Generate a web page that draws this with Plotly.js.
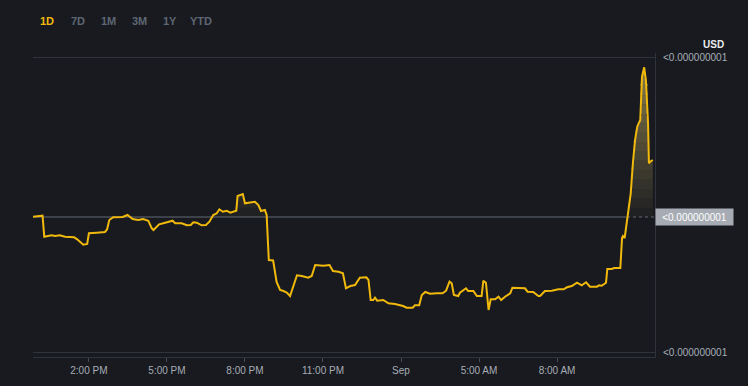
<!DOCTYPE html>
<html>
<head>
<meta charset="utf-8">
<script src="https://cdn.plot.ly/plotly-3.0.1.min.js"></script>
<style>
html,body{margin:0;padding:0;background:#181a20;}
#chart{width:748px;height:386px;}
</style>
</head>
<body>
<div id="chart"></div>
<script>
// Time stamps (local time) of each sampled price
const times = [
"2024-08-31 11:51","2024-08-31 12:13","2024-08-31 12:17","2024-08-31 12:23","2024-08-31 12:34",
"2024-08-31 12:42","2024-08-31 12:53","2024-08-31 13:05","2024-08-31 13:16","2024-08-31 13:26",
"2024-08-31 13:33","2024-08-31 13:40","2024-08-31 13:47","2024-08-31 13:56","2024-08-31 14:00",
"2024-08-31 14:18","2024-08-31 14:37","2024-08-31 14:42","2024-08-31 14:47","2024-08-31 14:56",
"2024-08-31 15:04","2024-08-31 15:18","2024-08-31 15:29","2024-08-31 15:41","2024-08-31 15:54",
"2024-08-31 16:05","2024-08-31 16:17","2024-08-31 16:25","2024-08-31 16:29","2024-08-31 16:42",
"2024-08-31 16:56","2024-08-31 17:07","2024-08-31 17:13","2024-08-31 17:19","2024-08-31 17:34",
"2024-08-31 17:46","2024-08-31 17:55","2024-08-31 18:01","2024-08-31 18:09","2024-08-31 18:20",
"2024-08-31 18:30","2024-08-31 18:38","2024-08-31 18:47","2024-08-31 18:55","2024-08-31 19:01",
"2024-08-31 19:09","2024-08-31 19:18","2024-08-31 19:26","2024-08-31 19:40","2024-08-31 19:43",
"2024-08-31 19:55","2024-08-31 20:00","2024-08-31 20:16","2024-08-31 20:23","2024-08-31 20:31",
"2024-08-31 20:37","2024-08-31 20:46","2024-08-31 20:50","2024-08-31 20:55","2024-08-31 21:05",
"2024-08-31 21:13","2024-08-31 21:21","2024-08-31 21:29","2024-08-31 21:37","2024-08-31 21:44",
"2024-08-31 21:52","2024-08-31 22:00","2024-08-31 22:11","2024-08-31 22:26","2024-08-31 22:34",
"2024-08-31 22:42","2024-08-31 23:01","2024-08-31 23:15","2024-08-31 23:23","2024-08-31 23:36",
"2024-08-31 23:46","2024-08-31 23:53","2024-09-01 00:03","2024-09-01 00:14","2024-09-01 00:25",
"2024-09-01 00:40","2024-09-01 00:45","2024-09-01 00:50","2024-09-01 00:56","2024-09-01 01:00",
"2024-09-01 01:05","2024-09-01 01:19","2024-09-01 01:31","2024-09-01 01:46","2024-09-01 02:05",
"2024-09-01 02:13","2024-09-01 02:27","2024-09-01 02:32","2024-09-01 02:42","2024-09-01 02:48",
"2024-09-01 02:56","2024-09-01 03:07","2024-09-01 03:23","2024-09-01 03:36","2024-09-01 03:44",
"2024-09-01 03:52","2024-09-01 03:57","2024-09-01 04:02","2024-09-01 04:12","2024-09-01 04:16",
"2024-09-01 04:30","2024-09-01 04:35","2024-09-01 04:47","2024-09-01 04:55","2024-09-01 05:06",
"2024-09-01 05:10","2024-09-01 05:16","2024-09-01 05:22","2024-09-01 05:27","2024-09-01 05:37",
"2024-09-01 05:45","2024-09-01 05:51","2024-09-01 06:00","2024-09-01 06:12","2024-09-01 06:17",
"2024-09-01 06:31","2024-09-01 06:37","2024-09-01 06:46","2024-09-01 06:52","2024-09-01 07:05",
"2024-09-01 07:17","2024-09-01 07:21","2024-09-01 07:32","2024-09-01 07:48","2024-09-01 08:03",
"2024-09-01 08:15","2024-09-01 08:23","2024-09-01 08:34","2024-09-01 08:46","2024-09-01 08:57",
"2024-09-01 09:07","2024-09-01 09:16","2024-09-01 09:32","2024-09-01 09:37","2024-09-01 09:43",
"2024-09-01 09:51","2024-09-01 09:53","2024-09-01 09:56","2024-09-01 10:06","2024-09-01 10:12",
"2024-09-01 10:26","2024-09-01 10:30","2024-09-01 10:32","2024-09-01 10:36","2024-09-01 10:41",
"2024-09-01 10:47","2024-09-01 10:50","2024-09-01 10:55","2024-09-01 11:00","2024-09-01 11:05",
"2024-09-01 11:12","2024-09-01 11:16","2024-09-01 11:21","2024-09-01 11:25","2024-09-01 11:30",
"2024-09-01 11:32","2024-09-01 11:35","2024-09-01 11:41"
];

// Price (relative units; every real value is below 0.000000001 USD)
const prices = [
1.353,1.363,1.153,1.160,1.167,1.160,1.167,1.153,1.147,1.147,
1.127,1.103,1.073,1.080,1.187,1.193,1.200,1.227,1.320,1.347,
1.350,1.350,1.370,1.330,1.320,1.330,1.313,1.237,1.220,1.277,
1.293,1.303,1.313,1.287,1.287,1.267,1.270,1.297,1.293,1.267,
1.270,1.303,1.370,1.387,1.427,1.403,1.413,1.393,1.413,1.560,
1.580,1.487,1.493,1.503,1.470,1.410,1.420,1.370,0.920,0.915,
0.700,0.620,0.610,0.593,0.560,0.670,0.767,0.760,0.743,0.760,
0.870,0.863,0.870,0.810,0.803,0.787,0.637,0.660,0.670,0.743,
0.747,0.720,0.520,0.520,0.543,0.513,0.520,0.487,0.480,0.460,
0.443,0.443,0.467,0.467,0.570,0.600,0.583,0.587,0.587,0.613,
0.703,0.687,0.570,0.560,0.593,0.637,0.610,0.610,0.560,0.560,
0.713,0.693,0.420,0.527,0.527,0.553,0.520,0.553,0.587,0.643,
0.643,0.637,0.637,0.603,0.600,0.560,0.560,0.610,0.613,0.627,
0.627,0.647,0.660,0.693,0.667,0.697,0.653,0.653,0.667,0.663,
0.687,0.693,0.830,0.830,0.840,0.840,1.140,1.160,1.140,1.320,
1.537,1.587,1.887,2.120,2.253,2.320,2.753,2.847,2.720,2.287,
1.887,1.903,1.920
];

const basePrice = 1.35;          // reference (opening) price line
const axisHigh = 2.95;           // upper axis label position
const axisLow = 0.0;             // lower axis label position
const axisLabels = ["<0.000000001", "<0.000000001"];
const currentLabel = "<0.000000001";
const currency = "USD";
const rangeButtons = ["1D", "7D", "1M", "3M", "1Y", "YTD"];
const xTickVals = ["2024-08-31 14:00","2024-08-31 17:00","2024-08-31 20:00","2024-08-31 23:00",
                   "2024-09-01 02:00","2024-09-01 05:00","2024-09-01 08:00"];
const xTickText = ["2:00 PM","5:00 PM","8:00 PM","11:00 PM","Sep","5:00 AM","8:00 AM"];
const xRange = ["2024-08-31 11:51", "2024-09-01 11:46"];

const yellow = "#f0b90b";

// Area above the reference line, drawn as stacked bands of rising opacity (vertical gradient look)
const gradTop = 2.85, nBands = 16;
const traces = [];
for (let k = 0; k < nBands; k++) {
  const lo = basePrice + (gradTop - basePrice) * k / nBands;
  const hi = basePrice + (gradTop - basePrice) * (k + 1) / nBands;
  const alpha = 0.03 + 0.55 * (k + 0.5) / nBands;
  traces.push({ x: times, y: times.map(() => lo), type: "scatter", mode: "lines",
    line: { width: 0, color: "rgba(0,0,0,0)" }, hoverinfo: "skip", showlegend: false });
  traces.push({ x: times, y: prices.map(p => Math.max(lo, Math.min(p, k === nBands - 1 ? 99 : hi))),
    type: "scatter", mode: "lines", fill: "tonexty",
    fillcolor: "rgba(215,192,105," + alpha.toFixed(3) + ")",
    line: { width: 0, color: "rgba(0,0,0,0)" }, hoverinfo: "skip", showlegend: false });
}
traces.push({ x: times, y: prices, type: "scatter", mode: "lines",
  line: { width: 2, color: yellow }, hoverinfo: "skip", showlegend: false });

const buttonX = [46.7, 77.7, 108.7, 139.3, 170.3, 201.3];
const pl = 33, pw = 622, pt = 53, ph = 304;
const annotations = rangeButtons.map((b, i) => ({
  text: "<b>" + b + "</b>", xref: "paper", yref: "paper",
  x: (buttonX[i] - pl) / pw, y: (pt + ph - 21) / ph, xanchor: "center", yanchor: "middle",
  showarrow: false, font: { size: 11, color: i === 0 ? yellow : "#5e6673", family: "Liberation Sans, Arial, sans-serif" }
}));
annotations.push({
  text: "<b>" + currency + "</b>", xref: "paper", yref: "paper",
  x: (713 - pl) / pw, y: (pt + ph - 44.3) / ph, xanchor: "center", yanchor: "middle",
  showarrow: false, font: { size: 10, color: "#eaecef", family: "Liberation Sans, Arial, sans-serif" }
});
annotations.push({
  text: currentLabel, xref: "paper", yref: "y", x: 1, y: basePrice,
  xanchor: "left", yanchor: "middle", showarrow: false,
  bgcolor: "#a7acb4", width: 75, height: 14, borderpad: 1, align: "center",
  font: { size: 10, color: "#ffffff", family: "Liberation Sans, Arial, sans-serif" }
});

const layout = {
  width: 748, height: 386,
  paper_bgcolor: "#181a20", plot_bgcolor: "#181a20",
  margin: { l: pl, r: 748 - pl - pw, t: pt, b: 386 - pt - ph, pad: 0 },
  showlegend: false,
  font: { family: "Liberation Sans, Arial, sans-serif", color: "#a7adb5" },
  xaxis: {
    type: "date", range: xRange, showgrid: false, zeroline: false,
    showline: true, linecolor: "#2f343c", linewidth: 1,
    ticks: "outside", ticklen: 4, tickcolor: "#474d57", tickwidth: 1,
    tickmode: "array", tickvals: xTickVals, ticktext: xTickText,
    tickfont: { size: 10, color: "#a7adb5" }, fixedrange: true
  },
  yaxis: {
    side: "right", range: [axisLow - 0.05, axisHigh + 0.04],
    tickmode: "array", tickvals: [axisLow, axisHigh], ticktext: axisLabels,
    showgrid: true, gridcolor: "#2f343c", gridwidth: 1, zeroline: false,
    showline: true, linecolor: "#2f343c", linewidth: 1,
    ticks: "outside", ticklen: 5, tickcolor: "rgba(0,0,0,0)",
    tickfont: { size: 10, color: "#a7adb5" }, fixedrange: true
  },
  shapes: [
    { type: "line", xref: "x", yref: "y", x0: xRange[0], x1: "2024-09-01 10:40",
      y0: basePrice, y1: basePrice, line: { color: "#3c414a", width: 2 }, layer: "below" },
    { type: "line", xref: "paper", yref: "y", x0: 0, x1: 1,
      y0: basePrice, y1: basePrice, line: { color: "#5e6673", width: 1, dash: "dot" }, layer: "below" }
  ],
  annotations: annotations
};

Plotly.newPlot("chart", traces, layout, { displayModeBar: false, staticPlot: true });
</script>
</body>
</html>
